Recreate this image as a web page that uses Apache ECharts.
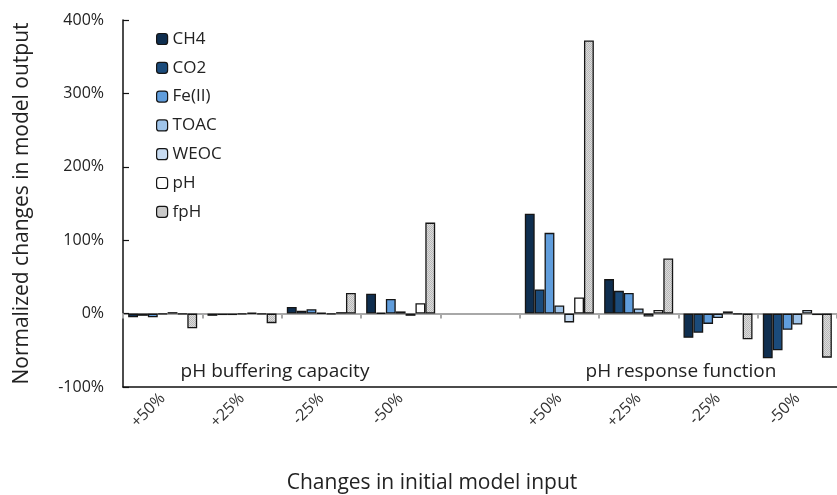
<!DOCTYPE html>
<html>
<head>
<meta charset="utf-8">
<script src="https://cdn.jsdelivr.net/npm/echarts@6/dist/echarts.min.js"></script>
<style>html,body{margin:0;padding:0;background:#fff;}#c{width:837px;height:495px;}</style>
</head>
<body>
<div id="c"></div>
<script>
// ---- data ----
var categories = ['+50%', '+25%', '-25%', '-50%', '', '+50%', '+25%', '-25%', '-50%'];
var seriesNames = ['CH4', 'CO2', 'Fe(II)', 'TOAC', 'WEOC', 'pH', 'fpH'];
var CH4   = [-5, -3,  9, 27, null, 136, 47, -33, -61];
var CO2   = [-3, -2,  4,  1, null,  33, 31, -26, -50];
var FeII  = [-5, -2,  6, 20, null, 110, 28, -14, -22];
var TOAC  = [-1, -1,  1,  3, null,  11,  7,  -6, -15];
var WEOC  = [ 2,  1, -1, -3, null, -12, -4,   3,   5];
var pH    = [-1, -1,  2, 14, null,  22,  5,  -1,  -2];
var fpH   = [-20, -13, 28, 124, null, 372, 75, -35, -60];
var yTicks = [-100, 0, 100, 200, 300, 400];
var groupLabels = ['pH buffering capacity', 'pH response function'];

var values = [CH4, CO2, FeII, TOAC, WEOC, pH, fpH];

// pattern for fpH
var pc = document.createElement('canvas');
pc.width = 2; pc.height = 2;
var g = pc.getContext('2d');
g.fillStyle = '#dcdcdc'; g.fillRect(0, 0, 2, 2);
g.fillStyle = '#b8b8b8'; g.fillRect(0, 0, 1, 1); g.fillRect(1, 1, 1, 1);

var colors = ['#0f2e4f', '#1b4b7b', '#609ddc', '#9fc4ea', '#c8dcf2', '#ffffff', {image: pc, repeat: 'repeat'}];

var font = 'Open Sans';

var series = seriesNames.map(function (n, i) {
  return {
    name: n,
    type: 'bar',
    xAxisIndex: 0,
    yAxisIndex: 0,
    barGap: '0%',
    barCategoryGap: '13%',
    data: values[i],
    itemStyle: {color: colors[i], borderColor: '#151515', borderWidth: 1.3},
    emphasis: {disabled: true}
  };
});

var chart = echarts.init(document.getElementById('c'), null, {renderer: 'canvas'});
chart.setOption({
  animation: false,
  textStyle: {fontFamily: font},
  grid: {left: 123, top: 20, width: 727, height: 367, containLabel: false},
  legend: {
    orient: 'vertical', left: 151, top: 24,
    itemWidth: 11, itemHeight: 11, itemGap: 8.8,
    textStyle: {fontSize: 17, color: '#222', fontFamily: font, lineHeight: 20},
    itemStyle: {borderColor: '#151515', borderWidth: 1.2},
    data: seriesNames
  },
  xAxis: [
    {
      type: 'category', data: categories, position: 'bottom',
      axisLine: {onZero: false, lineStyle: {color: '#111', width: 1.5}},
      axisTick: {show: false},
      axisLabel: {rotate: 45, margin: 9, fontSize: 16, color: '#333', fontFamily: font, interval: 0},
      splitLine: {show: false}
    },
    {
      type: 'category', data: categories, position: 'top',
      axisLine: {onZero: true, lineStyle: {color: '#a8a8a8', width: 2}},
      axisTick: {show: true, inside: true, length: 5, lineStyle: {color: '#a8a8a8', width: 2}, interval: 0},
      axisLabel: {show: false},
      splitLine: {show: false}
    }
  ],
  yAxis: {
    type: 'value', min: yTicks[0], max: yTicks[yTicks.length - 1], interval: 100,
    axisLine: {show: true, lineStyle: {color: '#111', width: 1.5}},
    axisTick: {show: true, inside: true, length: 6, lineStyle: {color: '#111', width: 1.2}},
    axisLabel: {formatter: '{value}%', fontSize: 16, color: '#222', margin: 19, fontFamily: font},
    splitLine: {show: false},
    name: 'Normalized changes in model output',
    nameLocation: 'middle', nameGap: 90,
    nameTextStyle: {fontSize: 21, color: '#222', fontFamily: font}
  },
  graphic: [
    {type: 'text', x: 275, y: 372, style: {text: groupLabels[0], fontSize: 19, fontFamily: font, fill: '#222', align: 'center', verticalAlign: 'middle'}},
    {type: 'text', x: 681, y: 372, style: {text: groupLabels[1], fontSize: 19, fontFamily: font, fill: '#222', align: 'center', verticalAlign: 'middle'}},
    {type: 'text', x: 432, y: 483, style: {text: 'Changes in initial model input', fontSize: 21, fontFamily: font, fill: '#222', align: 'center', verticalAlign: 'middle'}}
  ],
  series: series
});
</script>
</body>
</html>
